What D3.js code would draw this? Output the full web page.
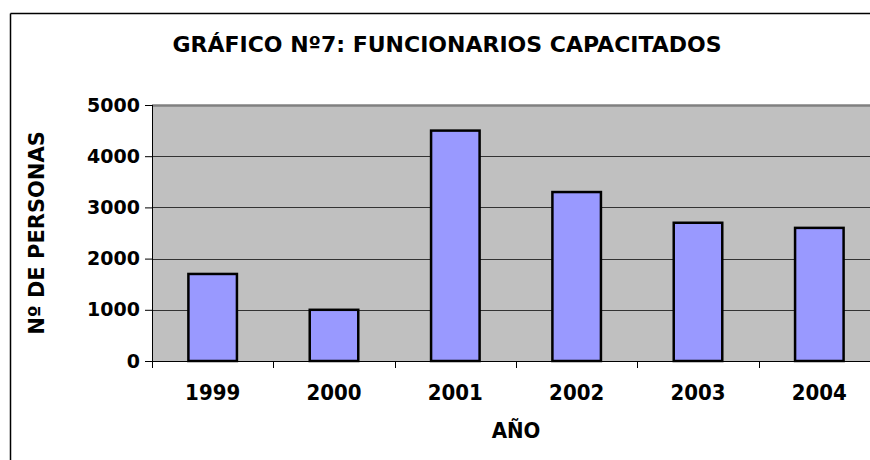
<!DOCTYPE html>
<html lang="es">
<head>
<meta charset="UTF-8">
<title>Gráfico Nº7: Funcionarios capacitados</title>
<script src="https://cdn.jsdelivr.net/npm/d3@7.8.4/dist/d3.min.js"></script>
<style>
    body { margin: 0; background: #fff; }
    svg { display: block; }
    .tick text { font-family: "DejaVu Sans", Verdana, sans-serif; font-weight: bold; }
</style>
</head>
<body>
<svg id="chart" width="870" height="460"></svg>
<script>
    // Data
    const years = ["1999", "2000", "2001", "2002", "2003", "2004"];
    const personas = [1700, 1000, 4500, 3300, 2700, 2600];
    const yTicks = [0, 1000, 2000, 3000, 4000, 5000];

    const svg = d3.select("#chart");
    const margin = { top: 105, right: -10, bottom: 99, left: 152 };
    const width = 870 - margin.left - margin.right,
          height = 460 - margin.top - margin.bottom;

    // outer chart border (only top and left are visible)
    svg.append("line").attr("x1", 10.5).attr("x2", 870).attr("y1", 13.5).attr("y2", 13.5)
        .attr("stroke", "#000").attr("stroke-width", 1.5);
    svg.append("line").attr("x1", 10.5).attr("x2", 10.5).attr("y1", 13.5).attr("y2", 460)
        .attr("stroke", "#000").attr("stroke-width", 1.5);

    svg.append("text")
        .attr("x", 447).attr("y", 52)
        .attr("text-anchor", "middle")
        .style("font-family", "'DejaVu Sans', Tahoma, sans-serif")
        .style("font-weight", "bold")
        .style("font-size", "22px")
        .text("GRÁFICO Nº7: FUNCIONARIOS CAPACITADOS");

    const g = svg.append("g").attr("transform", `translate(${margin.left},${margin.top})`);

    const x = d3.scaleBand().domain(years).range([0, width]).paddingInner(0.6).paddingOuter(0.3);
    const y = d3.scaleLinear().domain([0, 5000]).range([height, 0]);

    // plot background
    g.append("rect").attr("width", width).attr("height", height).attr("fill", "#c0c0c0");

    // gridlines
    g.append("g").selectAll("line")
        .data(yTicks.filter(d => d > 0 && d < 5000))
        .join("line")
        .attr("x1", 0).attr("x2", width)
        .attr("y1", d => Math.round(y(d)) + 0.5).attr("y2", d => Math.round(y(d)) + 0.5)
        .attr("stroke", "#333").attr("stroke-width", 1);

    // top edge of plot area
    g.append("line").attr("x1", 0).attr("x2", width).attr("y1", 0.5).attr("y2", 0.5)
        .attr("stroke", "#808080").attr("stroke-width", 2.5);

    // bars
    g.append("g").selectAll("rect")
        .data(personas)
        .join("rect")
        .attr("x", (d, i) => x(years[i]))
        .attr("y", d => y(d))
        .attr("width", x.bandwidth())
        .attr("height", d => height - y(d))
        .attr("fill", "#9999ff")
        .attr("stroke", "#000")
        .attr("stroke-width", 2.5);

    // y axis
    const yAxis = g.append("g")
        .call(d3.axisLeft(y).tickValues(yTicks).tickFormat(d3.format("d")).tickSize(7).tickPadding(5));
    yAxis.select(".domain").attr("stroke", "#000").attr("d", `M0.5,0V${height + 7}`);
    yAxis.selectAll(".tick line").attr("stroke", "#000");
    yAxis.selectAll(".tick text").style("font-size", "19px");

    // x axis: ticks sit between categories
    const xAxis = g.append("g").attr("transform", `translate(0,${height})`);
    xAxis.append("line").attr("x1", 0).attr("x2", width).attr("y1", 0.5).attr("y2", 0.5)
        .attr("stroke", "#000");
    xAxis.selectAll(".xt")
        .data(d3.range(years.length + 1))
        .join("line")
        .attr("x1", i => Math.round(i * width / years.length) + 0.5)
        .attr("x2", i => Math.round(i * width / years.length) + 0.5)
        .attr("y1", 0).attr("y2", 7)
        .attr("stroke", "#000");
    xAxis.selectAll(".xl")
        .data(years)
        .join("text")
        .attr("x", d => x(d) + x.bandwidth() / 2)
        .attr("y", 39)
        .attr("text-anchor", "middle")
        .style("font-family", "'DejaVu Sans Condensed', Tahoma, sans-serif")
        .style("font-weight", "bold")
        .style("font-size", "22px")
        .text(d => d);

    // axis titles
    svg.append("text")
        .attr("x", margin.left + width / 2).attr("y", 438)
        .attr("text-anchor", "middle")
        .style("font-family", "'DejaVu Sans Condensed', Tahoma, sans-serif")
        .style("font-weight", "bold")
        .style("font-size", "22px")
        .text("AÑO");

    svg.append("text")
        .attr("transform", `translate(44,${margin.top + height / 2}) rotate(-90)`)
        .attr("text-anchor", "middle")
        .style("font-family", "'DejaVu Sans', Verdana, sans-serif")
        .style("font-weight", "bold")
        .style("font-size", "21px")
        .text("Nº DE PERSONAS");
</script>
</body>
</html>
